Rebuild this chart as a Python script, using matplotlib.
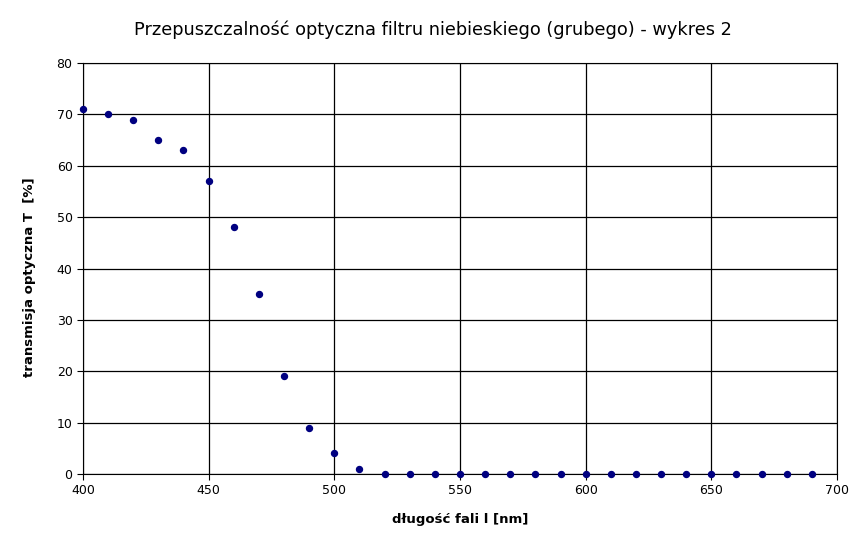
import matplotlib
matplotlib.use("Agg")
from matplotlib import pyplot as plt

# dane pomiarowe
dlugosc = [400, 410, 420, 430, 440, 450, 460, 470, 480, 490, 500, 510,
           520, 530, 540, 550, 560, 570, 580, 590, 600, 610, 620, 630,
           640, 650, 660, 670, 680, 690]
transmisja = [71, 70, 69, 65, 63, 57, 48, 35, 19, 9, 4, 1,
              0, 0, 0, 0, 0, 0, 0, 0, 0, 0, 0, 0,
              0, 0, 0, 0, 0, 0]

fig = plt.figure(figsize=(8.66, 5.48), dpi=100)
ax = fig.add_axes([0.0958, 0.135, 0.8707, 0.750])

ax.grid(True, color='black', linewidth=0.9)
ax.set_axisbelow(True)
ax.plot(dlugosc, transmisja, linestyle='none', marker='o', markersize=4.3,
        color='#000080', clip_on=False, zorder=3)

ax.set_xlim(400, 700)
ax.set_ylim(0, 80)
ax.set_xticks(range(400, 701, 50))
ax.set_yticks(range(0, 81, 10))
ax.tick_params(labelsize=9, direction='out', length=4, width=0.8)
for s in ax.spines.values():
    s.set_linewidth(0.8)

ax.set_xlabel("długość fali l [nm]", fontsize=9.5, fontweight='bold', labelpad=11)
ax.set_ylabel("transmisja optyczna T  [%]", fontsize=9.5, fontweight='bold', labelpad=12)
ax.yaxis.set_label_coords(-0.062, 0.48)
fig.text(0.5, 0.945, "Przepuszczalność optyczna filtru niebieskiego (grubego) - wykres 2",
         ha='center', va='center', fontsize=12.8)

plt.savefig("out.png", dpi=100)
